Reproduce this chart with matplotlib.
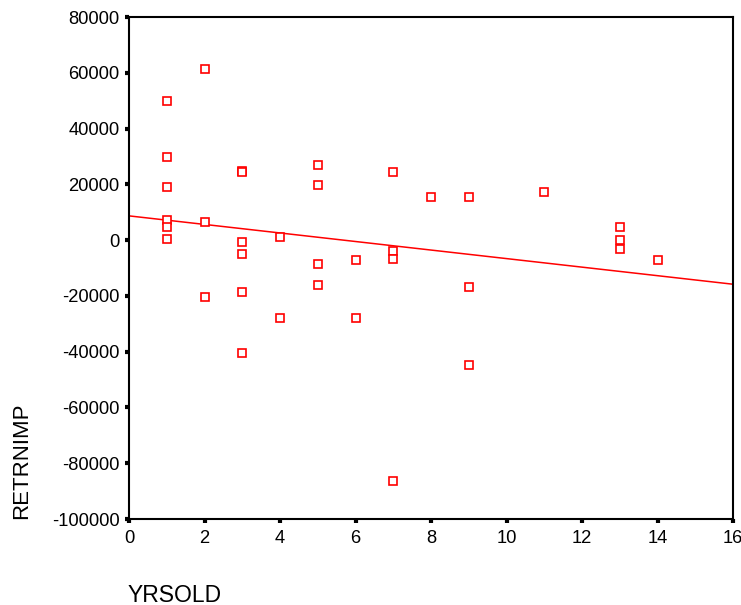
import matplotlib
matplotlib.use("Agg")
import matplotlib.pyplot as plt
import numpy as np

plt.rcParams['font.family'] = ['Liberation Sans', 'DejaVu Sans']

yrsold = [1, 1, 1, 1, 1, 1,
          2, 2, 2,
          3, 3, 3, 3, 3, 3,
          4, 4,
          5, 5, 5, 5,
          6, 6,
          7, 7, 7, 7,
          8,
          9, 9, 9,
          11,
          13, 13, 13,
          14]
retrnimp = [49900, 29800, 19000, 7200, 4800, 500,
            61300, 6500, -20300,
            24800, 24400, -700, -4900, -18500, -40500,
            1200, -28000,
            26800, 19600, -8500, -16100,
            -7100, -28000,
            24300, -3900, -6700, -86400,
            15400,
            15400, -16800, -44800,
            17100,
            4700, -100, -3200,
            -7100]

xticks = [0, 2, 4, 6, 8, 10, 12, 14, 16]
yticks = [-100000, -80000, -60000, -40000, -20000, 0, 20000, 40000, 60000, 80000]

fig = plt.figure(figsize=(7.41, 6.05), dpi=100)
ax = fig.add_axes([129/741, 1-519/605, (733-129)/741, (519-17)/605])

ax.plot(yrsold, retrnimp, linestyle='none', marker='s', markersize=5.4,
        markerfacecolor='white', markeredgecolor='#ff0000', markeredgewidth=1.2, zorder=3)

slope, intercept = np.polyfit(yrsold, retrnimp, 1)
xl = np.array([0, 16])
ax.plot(xl, intercept + slope * xl, color='#ff0000', linewidth=1.1, zorder=2)

ax.set_xlim(0, 16)
ax.set_ylim(-100000, 80000)
ax.set_xticks(xticks)
ax.set_yticks(yticks)
ax.set_xticklabels([str(t) for t in xticks])
ax.set_yticklabels([str(t) for t in yticks])
for s in ax.spines.values():
    s.set_linewidth(1.5)
ax.tick_params(direction='out', length=3, width=3, labelsize=13.2)
ax.tick_params(axis='x', pad=5)
ax.tick_params(axis='y', pad=4)

fig.text(22/741, 1-519/605, 'RETRNIMP', rotation=90, ha='center', va='bottom', fontsize=16)
fig.text(128/741, 1-595/605, 'YRSOLD', ha='left', va='center', fontsize=16.5)

fig.savefig('out.png', dpi=100)
